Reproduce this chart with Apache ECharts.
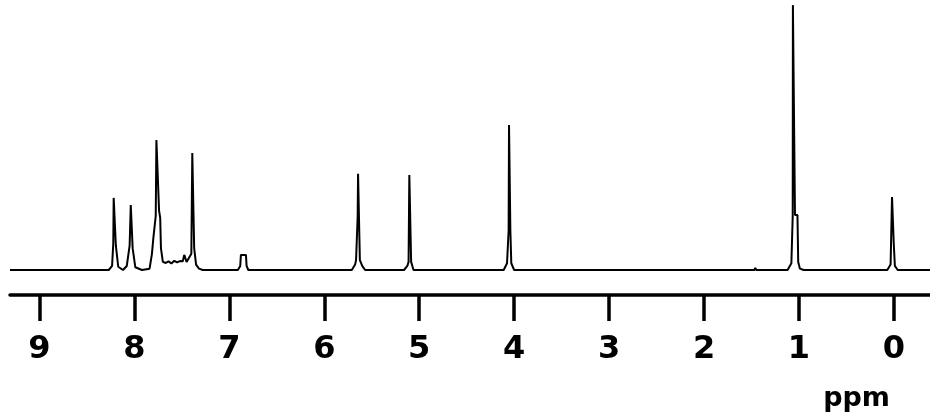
<!DOCTYPE html>
<html>
<head>
<meta charset="utf-8">
<script src="https://cdn.jsdelivr.net/npm/echarts@6/dist/echarts.min.js"></script>
<style>html,body{margin:0;padding:0;background:#fff;}#c{width:930px;height:418px;}</style>
</head>
<body>
<div id="c"></div>
<script>
// Chemical shift (ppm) of each trace point
var shiftPpm = [
  9.31, 8.27, 8.235, 8.222, 8.218, 8.202, 8.195, 8.17, 8.12,
  8.08, 8.05, 8.038, 8.032, 8.018, 7.99, 7.92,
  7.84, 7.815, 7.80, 7.775, 7.768, 7.752, 7.74, 7.728, 7.72, 7.70,
  7.67, 7.64, 7.61, 7.58, 7.55, 7.52, 7.49, 7.475, 7.462, 7.45, 7.43,
  7.40, 7.39, 7.376, 7.37, 7.35, 7.32, 7.28,
  6.91, 6.885, 6.878, 6.825, 6.818, 6.80,
  5.71, 5.675, 5.665, 5.648, 5.644, 5.634, 5.625, 5.615, 5.60, 5.57,
  5.16, 5.125, 5.112, 5.104, 5.096, 5.085, 5.06,
  4.11, 4.075, 4.058, 4.054, 4.044, 4.04, 4.03, 4.00,
  1.47, 1.46, 1.45, 1.12, 1.08, 1.066, 1.064, 1.050, 1.042, 1.016, 1.008, 0.99, 0.95,
  0.07, 0.035, 0.02, 0.014, 0.002, -0.01, -0.04, -0.38
];
// Intensity (percent of tallest drawing height) at each point
var intensity = [
  0, 0, 1.5, 10, 26.7, 26.7, 9, 1.2, 0,
  1.5, 9, 24.1, 24.1, 8, 1, 0,
  0.5, 6, 11.9, 20, 48.1, 48.1, 22, 19.3, 8, 3,
  2.6, 3.2, 2.4, 3.4, 2.8, 3.3, 3.2, 5.6, 5.6, 3, 3,
  6, 43.3, 43.3, 8, 2, 0.5, 0,
  0, 1.5, 5.6, 5.6, 1.5, 0,
  0, 2, 3.7, 20, 35.6, 35.6, 3.7, 3.7, 1.5, 0,
  0, 1.5, 3, 35.2, 35.2, 3, 0,
  0, 2.5, 14.8, 53.7, 53.7, 14.8, 2.5, 0,
  0, 0.8, 0, 0, 2.5, 20, 98.1, 98.1, 20.4, 20.4, 3, 0.5, 0,
  0, 2, 27.0, 27.0, 10, 1.5, 0, 0
];
var tickPpm = [0, 1, 2, 3, 4, 5, 6, 7, 8, 9];
var unitLabel = 'ppm';

var trace = shiftPpm.map(function (s, i) { return [s, intensity[i]]; });

var chart = echarts.init(document.getElementById('c'), null, {renderer: 'canvas'});
chart.setOption({
  animation: false,
  backgroundColor: '#ffffff',
  grid: {left: 10, right: 0, top: 0, bottom: 148},
  title: {
    text: unitLabel,
    right: 40, top: 385, padding: 0,
    textStyle: {fontFamily: 'DejaVu Sans', fontWeight: 'bold', fontSize: 27, color: '#000'}
  },
  xAxis: {
    type: 'value',
    min: -0.38, max: 9.31,
    inverse: true,
    offset: 25,
    splitLine: {show: false},
    axisLine: {onZero: false, lineStyle: {color: '#000', width: 3.5}},
    axisTick: {show: true, customValues: tickPpm, length: 26, lineStyle: {color: '#000', width: 3.5}},
    axisLabel: {
      customValues: tickPpm,
      margin: 39,
      fontFamily: 'DejaVu Sans', fontWeight: 'bold', fontSize: 32, color: '#000'
    }
  },
  yAxis: {type: 'value', min: 0, max: 100, show: false},
  series: [{
    type: 'line',
    data: trace,
    symbol: 'none',
    clip: false,
    lineStyle: {color: '#000', width: 2},
    silent: true
  }]
});
</script>
</body>
</html>
